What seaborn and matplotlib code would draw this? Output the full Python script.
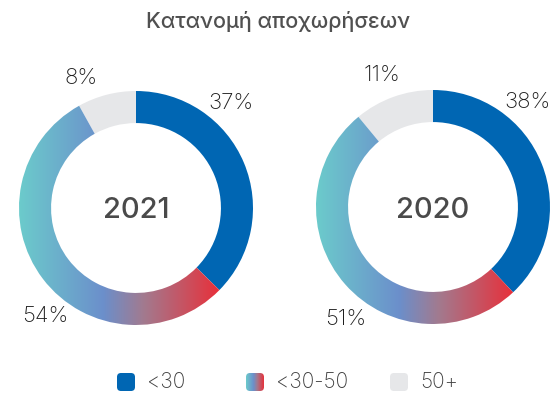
import numpy as np
import matplotlib
matplotlib.use("Agg")
import matplotlib.pyplot as plt
import seaborn as sns
from matplotlib.colors import LinearSegmentedColormap
from matplotlib.patches import FancyBboxPatch

sns.set_theme(style="white")
plt.rcParams["font.family"] = ["Inter", "DejaVu Sans"]

# Data
title = "Κατανομή αποχωρήσεων"
categories = ["<30", "<30-50", "50+"]
years = ["2021", "2020"]
shares_2021 = [37, 54, 8]
shares_2020 = [38, 51, 11]

# Styling
BLUE = "#0066b3"
GREY = "#e6e7e9"
TEXT = "#1e1e1e"
mid_cmap = LinearSegmentedColormap.from_list(
    "age_mid",
    [(0.0, "#6ccbcc"), (0.42, "#6b8fcb"), (0.62, "#a27a8f"), (1.0, "#e8303a")],
)
gradient = np.linspace(0, 1, 256)[None, :]

W, H = 559, 393
fig = plt.figure(figsize=(W / 100, H / 100), dpi=100)


def donut(cx, cy, r, values, year, label_angles):
    ax = fig.add_axes([(cx - r) / W, (H - cy - r) / H, 2 * r / W, 2 * r / H])
    wedges, _ = ax.pie(
        values,
        colors=[BLUE, "none", GREY],
        startangle=90,
        counterclock=False,
        radius=1,
        wedgeprops=dict(width=0.274, linewidth=0),
    )
    # middle age group drawn as a horizontal gradient clipped to its wedge
    mid = wedges[1]
    bb = mid.get_path().get_extents()
    ax.imshow(
        gradient,
        cmap=mid_cmap,
        extent=[bb.x0, bb.x1, bb.y0, bb.y1],
        aspect="auto",
        interpolation="bicubic",
        clip_path=mid,
        zorder=1,
    )
    ax.set_xlim(-1, 1)
    ax.set_ylim(-1, 1)
    ax.set_aspect("equal")
    ax.axis("off")

    ax.text(0, 0, year, ha="center", va="center_baseline", fontsize=21,
            fontweight="medium", color="#4a4a4a")
    for v, a in zip(values, label_angles):
        t = np.deg2rad(a)
        ax.text(1.21 * np.sin(t), 1.21 * np.cos(t), f"{v}%", ha="center",
                va="center", fontsize=16, fontweight="light", color=TEXT)


donut(136, 208, 117, shares_2021, years[0], [42, 220, -23])
donut(433, 207, 117, shares_2020, years[1], [42, 218, -21])

fig.text(278 / W, 1 - 22 / H, title, ha="center", va="center", fontsize=15.5,
         fontweight="medium", color="#505050")

# Legend row
lg = fig.add_axes([0, 0, 1, 1])
lg.set_xlim(0, W)
lg.set_ylim(H, 0)
lg.axis("off")
swatch_x = [117, 246, 390]
sw, sy = 18, 373
for cat, x, face in zip(categories, swatch_x, [BLUE, None, GREY]):
    box = FancyBboxPatch((x, sy), sw, sw, boxstyle="round,pad=0,rounding_size=4",
                         facecolor=face if face else "none", linewidth=0)
    lg.add_patch(box)
    if face is None:
        lg.imshow(gradient, cmap=mid_cmap, extent=[x, x + sw, sy + sw, sy],
                  aspect="auto", interpolation="bicubic", clip_path=box)
    lg.text(x + sw + 12, sy + sw / 2, cat, ha="left", va="center",
            fontsize=15, fontweight="light", color="#404040")
lg.set_xlim(0, W)
lg.set_ylim(H, 0)

fig.savefig("out.png", dpi=100, facecolor="white")
